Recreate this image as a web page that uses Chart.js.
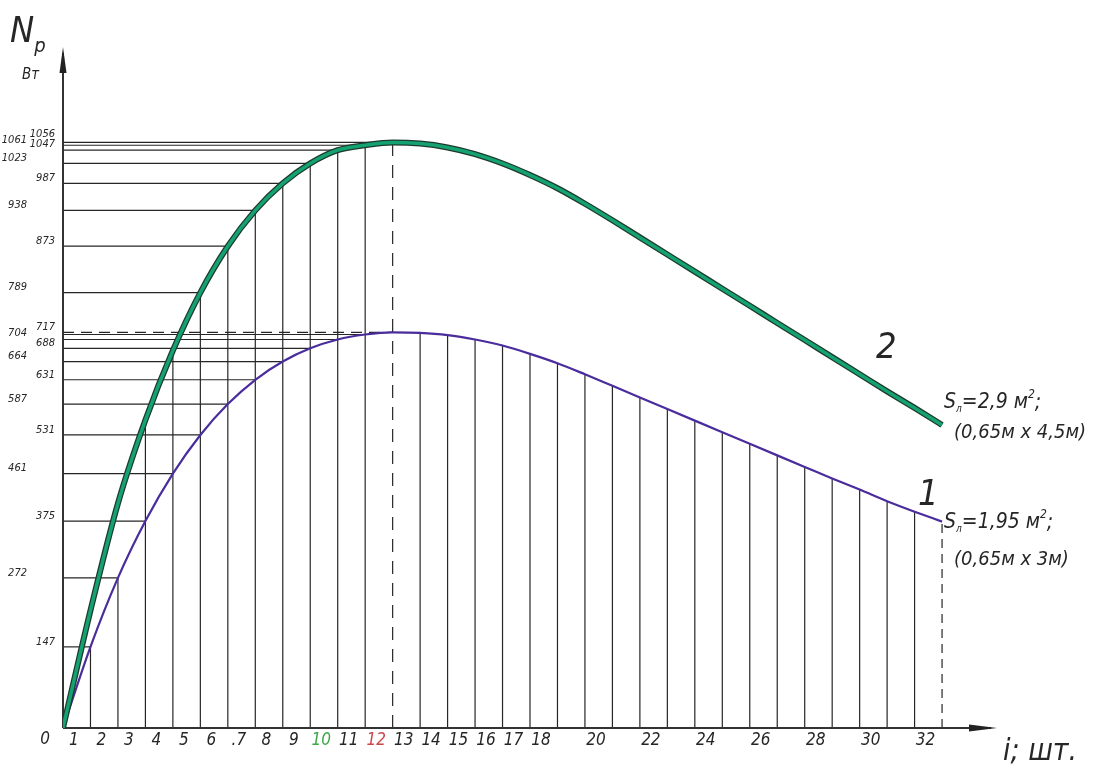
<!DOCTYPE html>
<html><head><meta charset="utf-8">
<script src="https://cdn.jsdelivr.net/npm/chart.js@4"></script>
<style>html,body{margin:0;padding:0;background:#fff;} #wrap{width:1097px;height:766px;position:relative;}</style>
</head><body><div id="wrap"><canvas id="c"></canvas></div>
<script>
// ---- data ----
const iValues = [0,1,2,3,4,5,6,7,8,9,10,11,12,13,14,15,16,17,18,19,20,21,22,23,24,25,26,27,28,29,30,31,32];
// curve 1: S = 1,95 m2
const power1 = [0,147,272,375,461,531,587,631,664,688,704,713,717,716,712,704,693,678,661,641,620,599,578,557,536,515,494,473,452,432,411,392,374];
// curve 2: S = 2,9 m2
const power2 = [0,213,407,558,684,789,873,938,987,1023,1047,1056,1061,1059,1052,1040,1023,1002,978,950,920,889,858,827,796,765,734,703,672,641,610,580,549];
const xTickValues = [1,2,3,4,5,6,7,8,9,10,11,12,13,14,15,16,17,18,20,22,24,26,28,30,32];
const xTickTexts  = ['1','2','3','4','5','6','.7','8','9','10','11','12','13','14','15','16','17','18','20','22','24','26','28','30','32'];
const yLabelsLeft  = [1061,1023,938,789,704,664,587,461,272];
const yLabelsRight = [1056,1047,987,873,717,688,631,531,375,147];
const X_MAX = 34, Y_MAX = 1234;

const FONT = "'Liberation Sans Narrow','DejaVu Sans Condensed','Liberation Sans',sans-serif";
const INK = '#262626';

function peakIndex(arr){ let m=0; for(let k=1;k<arr.length;k++) if(arr[k]>arr[m]) m=k; return m; }

function richText(ctx, x, y, parts){
  let cx = x;
  for (const p of parts){
    ctx.font = 'italic ' + p.size + 'px ' + FONT;
    ctx.fillText(p.t, cx, y + (p.dy||0));
    cx += ctx.measureText(p.t).width + (p.gap||0);
  }
}

const drawing = {
  id: 'drawing',
  beforeDatasetsDraw(chart){
    const {ctx, scales:{x, y}} = chart;
    const X = v => x.getPixelForValue(v), Y = v => y.getPixelForValue(v);
    const seg = (x1,y1,x2,y2) => { ctx.beginPath(); ctx.moveTo(x1,y1); ctx.lineTo(x2,y2); ctx.stroke(); };
    const p1 = peakIndex(power1), p2 = peakIndex(power2);
    const last = iValues.length - 1;
    ctx.save();
    ctx.strokeStyle = INK; ctx.lineWidth = 1.2;
    // vertical ordinates
    for (let k=1;k<=last;k++){
      const i = iValues[k];
      if (k===p2 || k===last) continue;
      const top = (k>=3 && k<p2) ? power2[k] : power1[k];
      seg(X(i), Y(0), X(i), Y(top));
    }
    // horizontal projections
    for (let k=1;k<p1;k++) seg(X(0), Y(power1[k]), X(iValues[k]), Y(power1[k]));
    for (let k=5;k<p2;k++) seg(X(0), Y(power2[k]), X(iValues[k]), Y(power2[k]));
    seg(X(0), Y(power2[p2]), X(iValues[p2]), Y(power2[p2]));
    // dashed lines
    ctx.setLineDash([11,7]);
    seg(X(0), Y(power1[p1]), X(iValues[p1]), Y(power1[p1]));
    ctx.setLineDash([13,9]);
    seg(X(iValues[p2]), Y(0), X(iValues[p2]), Y(power2[p2]));
    ctx.setLineDash([9,6]);
    seg(X(iValues[last]), Y(0), X(iValues[last]), Y(power1[last]));
    ctx.setLineDash([]);
    // axes with arrows
    ctx.lineWidth = 2; ctx.strokeStyle = '#333';
    const ox = X(0), oy = Y(0);
    seg(ox, oy, ox, Y(Y_MAX) + 6);
    seg(ox, oy, X(X_MAX) - 6, oy);
    ctx.fillStyle = '#222';
    ctx.beginPath(); ctx.moveTo(ox, Y(Y_MAX)); ctx.lineTo(ox-3.5, Y(Y_MAX)+26); ctx.lineTo(ox+3.5, Y(Y_MAX)+26); ctx.closePath(); ctx.fill();
    ctx.beginPath(); ctx.moveTo(X(X_MAX), oy); ctx.lineTo(X(X_MAX)-28, oy-3.5); ctx.lineTo(X(X_MAX)-28, oy+3.5); ctx.closePath(); ctx.fill();

    // y labels
    ctx.fillStyle = INK; ctx.textBaseline = 'middle'; ctx.textAlign = 'right';
    ctx.font = 'italic 11px ' + FONT;
    const nudge = {1056:-11, 1047:-6, 1061:-2, 704:-6};
    for (const v of yLabelsLeft) ctx.fillText(String(v), 27, Y(v) + (nudge[v] ?? -5));
    for (const v of yLabelsRight) ctx.fillText(String(v), 55, Y(v) + (nudge[v] ?? -5));

    // x labels
    ctx.textAlign = 'center';
    ctx.font = 'italic 17px ' + FONT;
    ctx.fillText('0', ox - 18, oy + 12);
    xTickValues.forEach((v, n) => {
      ctx.fillStyle = v===10 ? '#3aa846' : (v===12 ? '#c8484a' : INK);
      ctx.fillText(xTickTexts[n], X(v - 0.6), oy + 13);
    });
    ctx.restore();
  },
  afterDraw(chart){
    const {ctx, scales:{x, y}} = chart;
    const X = v => x.getPixelForValue(v), Y = v => y.getPixelForValue(v);
    const last = iValues.length - 1;
    ctx.save();
    ctx.fillStyle = INK; ctx.textBaseline = 'alphabetic'; ctx.textAlign = 'left';
    // axis titles
    richText(ctx, 10, 42, [{t:'N', size:36}, {t:'p', size:20, dy:10}]);
    richText(ctx, 22, 79, [{t:'Вт', size:15}]);
    richText(ctx, 1003, 760, [{t:'i; шт.', size:30}]);
    // curve numbers
    richText(ctx, 876, 358, [{t:'2', size:36}]);
    richText(ctx, 918, 505, [{t:'1', size:36}]);
    // areas
    const ex = X(iValues[last]) + 2;
    richText(ctx, ex, Y(power2[last]) - 17, [{t:'S', size:21}, {t:'л', size:10, dy:4}, {t:'=2,9 м', size:21}, {t:'2', size:12, dy:-10}, {t:';', size:21}]);
    richText(ctx, ex + 10, Y(power2[last]) + 13, [{t:'(0,65м х 4,5м)', size:20}]);
    richText(ctx, ex, Y(power1[last]) + 6, [{t:'S', size:21}, {t:'л', size:10, dy:4}, {t:'=1,95 м', size:21}, {t:'2', size:12, dy:-10}, {t:';', size:21}]);
    richText(ctx, ex + 10, Y(power1[last]) + 43, [{t:'(0,65м х 3м)', size:20}]);
    ctx.restore();
  }
};

const pts = arr => iValues.map((v,k) => ({x:v, y:arr[k]}));

new Chart(document.getElementById('c'), {
  type: 'line',
  data: {
    datasets: [
      {label:'2', data: pts(power2), borderColor:'#14a272', borderWidth:3.5, pointRadius:0, cubicInterpolationMode:'monotone', order:0},
      {label:'2o', data: pts(power2), borderColor:'#1d3a2c', borderWidth:6, pointRadius:0, cubicInterpolationMode:'monotone', order:1},
      {label:'1', data: pts(power1), borderColor:'#4a2c9c', borderWidth:2.2, pointRadius:0, cubicInterpolationMode:'monotone', order:2}
    ]
  },
  options: {
    responsive: true, maintainAspectRatio: false, animation: false,
    layout: {padding: {left:63, right:100, top:47, bottom:38}},
    plugins: {legend:{display:false}, tooltip:{enabled:false}},
    scales: {
      x: {type:'linear', min:0, max:X_MAX, display:false},
      y: {min:0, max:Y_MAX, display:false}
    }
  },
  plugins: [drawing]
});
</script>
</body></html>
